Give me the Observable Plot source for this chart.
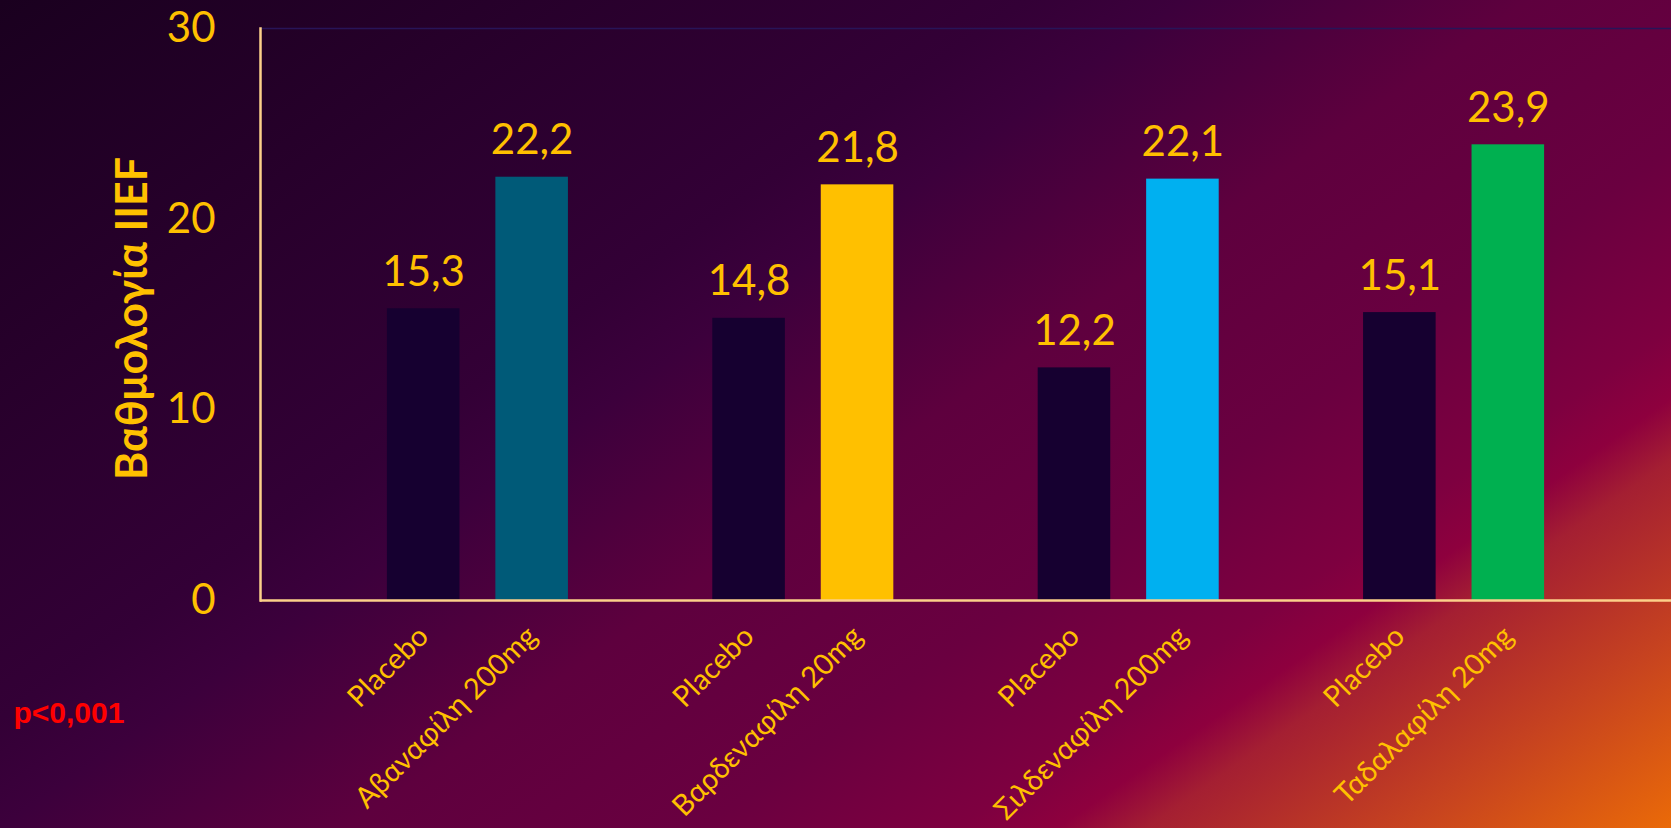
<!DOCTYPE html>
<html>
<head>
<meta charset="utf-8">
<script src="https://cdn.jsdelivr.net/npm/d3@7"></script>
<script src="https://cdn.jsdelivr.net/npm/@observablehq/plot@0.6"></script>
<style>
  html, body { margin: 0; padding: 0; overflow: hidden; }
  #chart {
    width: 1671px; height: 828px;
    background: linear-gradient(145deg, #1a001f 0%, #330036 36%, #3c003c 41.4%, #5e003e 53.6%, #6a0040 66%, #7e0040 75%, #8e003e 78.5%, #a41f32 81.6%, #c64220 90.4%, #ea6a08 100%);
  }
  #chart svg { display: block; }
</style>
</head>
<body>
<div id="chart"></div>
<script>
// Data
const labels = ["Placebo", "Αβαναφίλη 200mg", "Placebo", "Βαρδεναφίλη 20mg", "Placebo", "Σιλδεναφίλη 200mg", "Placebo", "Ταδαλαφίλη 20mg"];
const values = [15.3, 22.2, 14.8, 21.8, 12.2, 22.1, 15.1, 23.9];
const groups = [1, 1, 2, 2, 3, 3, 4, 4];
const colors = ["#160030", "#005a78", "#160030", "#ffc000", "#160030", "#00b0f0", "#160030", "#00b050"];
const yTicks = [0, 10, 20, 30];
const yTitle = "Βαθμολογία IIEF";
const note = "p<0,001";

// Table built from arrays
const data = labels.map((l, i) => ({key: "k" + i, label: l, value: values[i], group: groups[i], color: colors[i]}));
// band domain with a spacer slot between groups
const domain = [];
data.forEach((d, i) => {
  domain.push(d.key);
  if (i % 2 === 1 && i < data.length - 1) domain.push("gap" + d.group);
});
const labelOf = new Map(data.map(d => [d.key, d.label]));
const fmt = v => String(v).replace(".", ",");

const yellow = "#ffc000";
const axisColor = "#fdd08a";

const chart = Plot.plot({
  width: 1671,
  height: 828,
  marginLeft: 260,
  marginRight: 0,
  marginTop: 28,
  marginBottom: 228,
  style: {background: "transparent", fontFamily: "Lato, 'Open Sans', sans-serif", color: yellow},
  x: {type: "band", domain, paddingInner: 0.331, paddingOuter: 1.17, align: 0.5, round: false},
  y: {domain: [0, 30]},
  color: {type: "identity"},
  marks: [
    Plot.ruleY([30], {stroke: "#281458", strokeWidth: 1.5}),
    Plot.barY(data, {x: "key", y: "value", fill: "color"}),
    Plot.text(data, {x: "key", y: "value", text: d => fmt(d.value), dy: -23, lineAnchor: "bottom", fontSize: 42, fill: yellow}),
    Plot.frame({anchor: "left", stroke: axisColor, strokeWidth: 2.5}),
    Plot.ruleY([0], {stroke: axisColor, strokeWidth: 2.5}),
    Plot.axisY({ticks: yTicks, tickSize: 0, tickPadding: 45, fontSize: 42, label: null, fill: yellow}),
    Plot.axisX({ticks: data.map(d => d.key), tickFormat: k => labelOf.get(k), tickRotate: -45, tickSize: 0, tickPadding: 31, fontSize: 29, label: null, fill: yellow}),
    Plot.text([yTitle], {frameAnchor: "left", textAnchor: "middle", rotate: -90, dx: -127, dy: 4, fontSize: 43, fontWeight: "bold", fill: yellow}),
    Plot.text([note], {frameAnchor: "bottom-left", dx: -247, dy: 122, lineAnchor: "bottom", textAnchor: "start", fontFamily: "'Liberation Sans', Arial, sans-serif", fontWeight: "bold", fontSize: 30, fill: "#ff0000"})
  ]
});
document.getElementById("chart").appendChild(chart);
</script>
</body>
</html>
